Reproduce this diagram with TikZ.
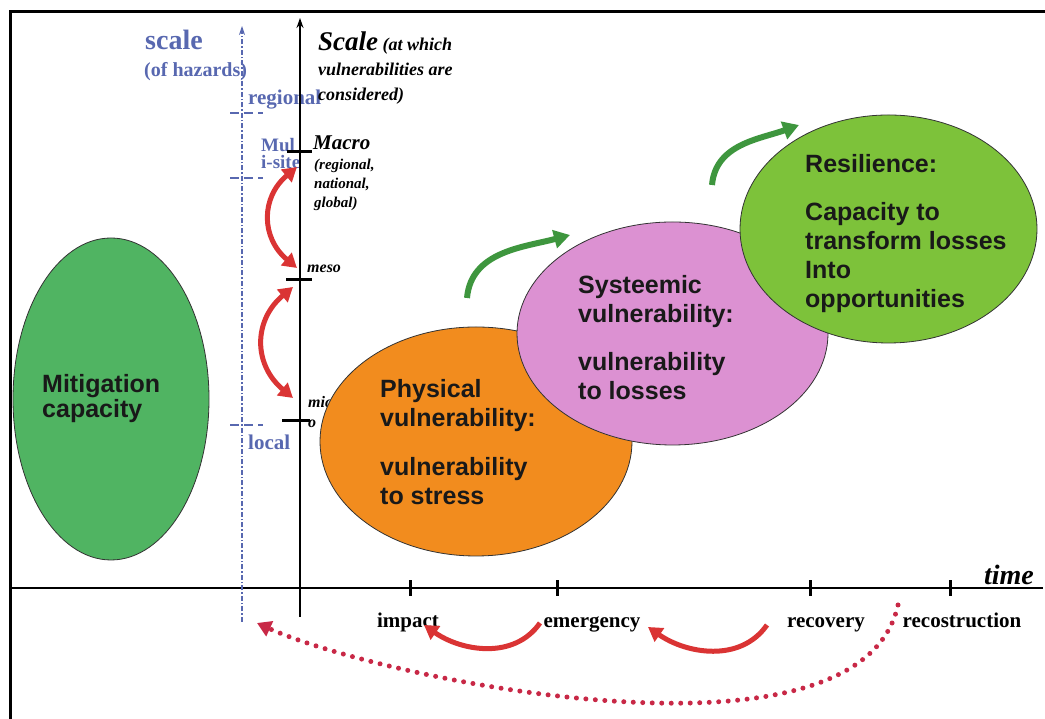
\documentclass[tikz,border=0pt]{standalone}
\usepackage{fontspec}
\setmainfont{Liberation Serif}
\setsansfont{Liberation Sans}
\usetikzlibrary{shapes.geometric,arrows.meta}

\definecolor{mitgreen}{RGB}{80,180,98}
\definecolor{physorange}{RGB}{242,140,30}
\definecolor{syspink}{RGB}{220,145,210}
\definecolor{resgreen}{RGB}{125,194,58}
\definecolor{hazblue}{RGB}{88,104,176}
\definecolor{arcred}{RGB}{218,52,52}
\definecolor{dotred}{RGB}{200,40,70}
\definecolor{stepgreen}{RGB}{62,150,62}

\tikzset{
  blob/.style={ellipse, draw=black!80, line width=0.8pt, inner sep=0pt},
  blobtext/.style={font=\sffamily\bfseries\fontsize{25}{29}\selectfont, align=left, inner sep=0pt, anchor=north west, text=black!90},
  phase/.style={font=\bfseries\fontsize{21}{21}\selectfont, inner sep=0pt, anchor=base},
  hazard/.style={font=\bfseries\fontsize{21}{21}\selectfont, text=hazblue, inner sep=0pt, anchor=base west},
  level/.style={font=\bfseries\itshape, inner sep=0pt, anchor=base west},
  axtick/.style={line width=3pt},
  hztick/.style={hazblue, line width=2pt, dash pattern=on 9pt off 5pt},
  scalearc/.style={arcred, line width=5pt, {Triangle[width=16pt,length=14pt]}-{Triangle[width=16pt,length=14pt]}},
  backarc/.style={arcred, line width=5pt, -{Triangle[width=16pt,length=14pt]}},
  gostep/.style={stepgreen, line width=6pt, -{Triangle[width=18pt,length=16pt]}}
}

\begin{document}
\begin{tikzpicture}[x=1pt,y=1pt]
\useasboundingbox (0,0) rectangle (1045,719);

% cadre
\draw[line width=3pt] (10,0) -- (10,707) -- (1045,707);

% axes
\coordinate (vbot) at (300,102);
\coordinate (vtop) at (300,701);
\coordinate (tleft) at (10,131);
\coordinate (tright) at (1043,131);
\coordinate (hbot) at (242,97);
\coordinate (htop) at (242,693);

\draw[line width=2pt] (tleft) -- (tright);
\draw[hazblue, line width=1.3pt, dash pattern=on 5pt off 2pt on 1.5pt off 2pt, -{Stealth[length=9pt,width=6pt]}] (hbot) -- (htop);

% echelle des aleas (bleu)
\node[font=\bfseries\fontsize{28}{28}\selectfont, text=hazblue, anchor=base west, inner sep=0pt] (hzscale) at (145,669) {scale};
\node[hazard, font=\bfseries\fontsize{20}{20}\selectfont] (hzof) at (144,642) {(of hazards)};
\node[hazard] (hzreg) at (248,614) {regional};
\node[hazard, font=\bfseries\fontsize{19}{17}\selectfont, align=left, anchor=north west] (hzmulti) at (261,581) {Mul\\i-site};
\node[hazard] (hzloc) at (248,269) {local};
\foreach \y in {606,541,294} \draw[hztick] (230,\y) -- (263,\y);

% echelle des vulnerabilites (noir)
\node[level, font=\bfseries\itshape\fontsize{18}{25}\selectfont, align=left, anchor=north west] (vscale) at (318,687) {{\fontsize{27}{25}\selectfont Scale} (at which\\vulnerabilities are\\considered)};
\node[level, font=\bfseries\itshape\fontsize{21}{21}\selectfont] (macro) at (313,569) {Macro};
\node[level, font=\bfseries\itshape\fontsize{15}{19}\selectfont, align=left, anchor=north west] (macronote) at (314,560) {(regional,\\national,\\global)};
\node[level, font=\bfseries\itshape\fontsize{16}{16}\selectfont] (meso) at (307,446) {meso};
\node[level, font=\bfseries\itshape\fontsize{16}{20}\selectfont, align=left, anchor=north west] (micro) at (308,323) {micr\\o};

\draw[line width=1.5pt, -{Stealth[length=10pt,width=7pt]}] (vbot) -- (vtop);
\foreach \y/\l/\r in {567/287/312, 439/286/312, 298/282/310} \draw[axtick] (\l,\y) -- (\r,\y);

% axe du temps
\foreach \x/\name/\lx/\txt in {410/imp/408/impact, 557/emg/592/emergency, 810/rec/826/recovery, 950/rcs/962/recostruction} {
  \draw[axtick] (\x,123) -- (\x,139);
  \node[phase] (\name) at (\lx,91) {\txt};
}
\node[level, font=\bfseries\itshape\fontsize{28}{28}\selectfont, anchor=base] (timelbl) at (1009,134) {time};

% ellipses
\node[blob, fill=mitgreen, minimum width=196pt, minimum height=322pt] (mitig) at (111,320) {};
\node[blobtext, font=\sffamily\bfseries\fontsize{25}{25}\selectfont] (mitigtxt) at (42,345) {Mitigation\\capacity};

\node[blob, fill=physorange, minimum width=312pt, minimum height=229pt] (phys) at (476,277.5) {};
\node[blobtext] (phystxt) at (380,340) {Physical\\vulnerability:\\[20pt]vulnerability\\to stress};

\node[blob, fill=syspink, minimum width=311pt, minimum height=223pt] (syst) at (672.5,385.5) {};
\node[blobtext] (systtxt) at (578,444) {Systeemic\\vulnerability:\\[19pt]vulnerability\\to losses};

\node[blob, fill=resgreen, minimum width=297pt, minimum height=228pt] (resil) at (888.5,490) {};
\node[blobtext] (resiltxt) at (805,565) {Resilience:\\[19pt]Capacity to\\transform losses\\Into\\opportunities};

% fleches vertes
\coordinate (physup) at (467,421);
\coordinate (systin) at (570,484);
\coordinate (systup) at (712,534);
\coordinate (resilin) at (799,594);
\draw[gostep] (physup) to[out=85,in=195] (systin);
\draw[gostep] (systup) to[out=85,in=200] (resilin);

% fleches rouges (echelles)
\coordinate (macroarc) at (297,552);
\coordinate (mesoarcA) at (297,451);
\coordinate (mesoarcB) at (293,432);
\coordinate (microarc) at (293,321);
\draw[scalearc] (macroarc) to[bend right=50, looseness=1.2] (mesoarcA);
\draw[scalearc] (mesoarcB) to[bend right=50, looseness=1.2] (microarc);

% fleches rouges (temps)
\coordinate (emgstart) at (540,96);
\coordinate (impend) at (424,94);
\coordinate (recstart) at (767,94);
\coordinate (emgend) at (648,92);
\draw[backarc] (emgstart) to[out=235,in=-35] (impend);
\draw[backarc] (recstart) to[out=235,in=-35] (emgend);

\coordinate (rcsstart) at (898,114);
\coordinate (hazend) at (257,96);
\draw[dotred, line width=5pt, line cap=round, dash pattern=on 0pt off 9.5pt, -{Triangle[width=16pt,length=14pt]}] (rcsstart) .. controls (860,-60) and (380,40) .. (hazend);

\end{tikzpicture}
\end{document}
